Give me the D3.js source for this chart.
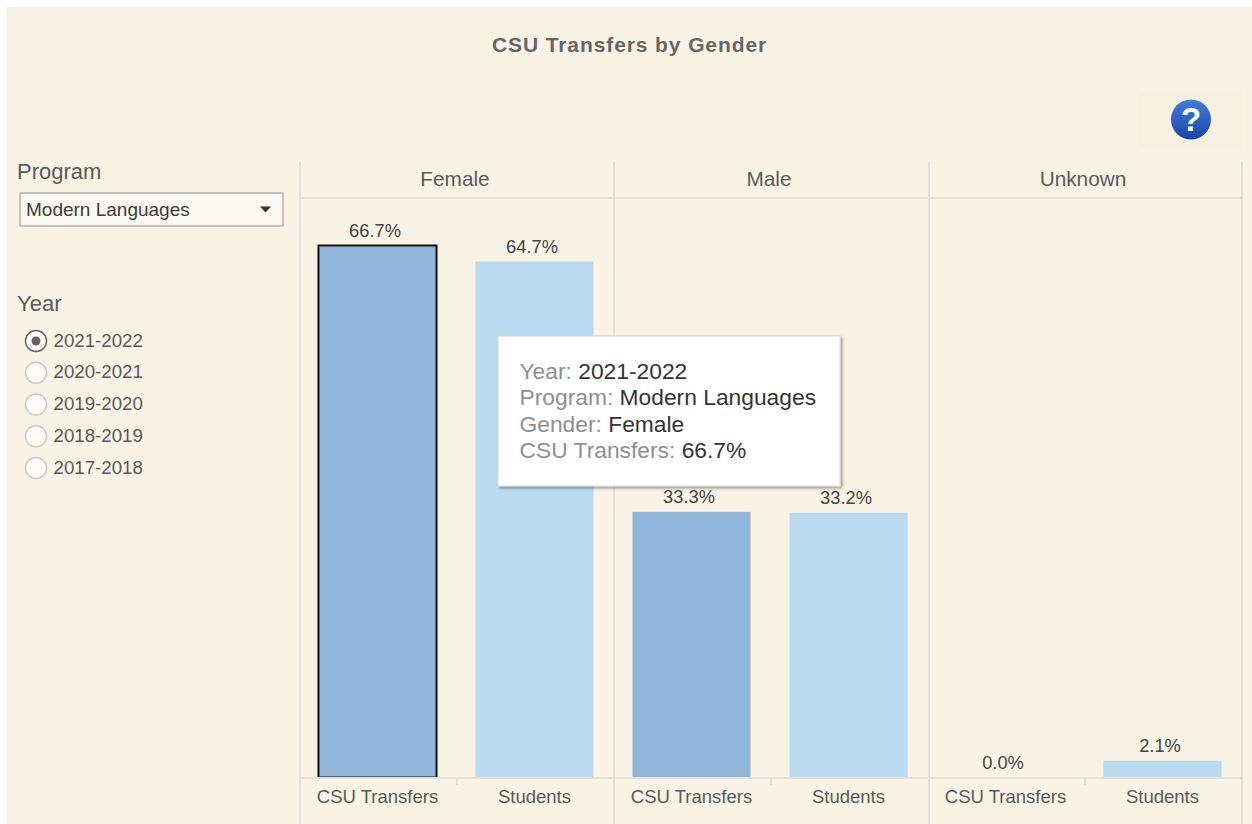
<!DOCTYPE html>
<html>
<head>
<meta charset="utf-8">
<script src="https://cdn.jsdelivr.net/npm/d3@7"></script>
<style>
html, body { margin: 0; padding: 0; background: #fff; overflow: hidden; }
svg { display: block; }
text { font-family: Arial, "Liberation Sans", sans-serif; }
</style>
</head>
<body>
<div id="chart"></div>
<script>
var genders = ["Female", "Male", "Unknown"];
var measures = ["CSU Transfers", "Students"];
var csuTransfers = [66.7, 33.3, 0.0];
var students = [64.7, 33.2, 2.1];
var years = ["2021-2022", "2020-2021", "2019-2020", "2018-2019", "2017-2018"];
var selectedYear = "2021-2022";
var programName = "Modern Languages";
var tooltipRows = [
  ["Year: ", "2021-2022"],
  ["Program: ", "Modern Languages"],
  ["Gender: ", "Female"],
  ["CSU Transfers: ", "66.7%"]
];

var width = 1252, height = 824;
var textColor = "#5a5a5a", faint = "#e2e0d9";

var svg = d3.select("#chart").append("svg").attr("width", width).attr("height", height);
var defs = svg.append("defs");

var blur = defs.append("filter").attr("id", "tipShadow")
  .attr("x", "-5%").attr("y", "-5%").attr("width", "112%").attr("height", "115%");
blur.append("feDropShadow").attr("dx", 2).attr("dy", 2).attr("stdDeviation", 1.5)
  .attr("flood-color", "#000").attr("flood-opacity", 0.35);

var iconGrad = defs.append("linearGradient").attr("id", "helpGrad")
  .attr("x1", 0).attr("y1", 0).attr("x2", 0).attr("y2", 1);
iconGrad.append("stop").attr("offset", "0%").attr("stop-color", "#3f7fdc");
iconGrad.append("stop").attr("offset", "100%").attr("stop-color", "#1a44a8");

// background panel
svg.append("rect").attr("x", 7).attr("y", 7).attr("width", width - 7).attr("height", height - 7).attr("fill", "#f9f3e6");

svg.append("text").attr("x", 629.5).attr("y", 52).attr("text-anchor", "middle")
  .attr("font-size", 21).attr("font-weight", "bold").attr("letter-spacing", 0.9)
  .attr("fill", "#666").text("CSU Transfers by Gender");

// help icon
svg.append("rect").attr("x", 1139).attr("y", 92).attr("width", 103).attr("height", 56).attr("fill", "#f8f1e2");
svg.append("circle").attr("cx", 1191).attr("cy", 119.5).attr("r", 20).attr("fill", "url(#helpGrad)");
svg.append("text").attr("x", 1191).attr("y", 131).attr("text-anchor", "middle")
  .attr("font-size", 33).attr("font-weight", "bold").attr("fill", "#fff").text("?");

// scales
var x0 = d3.scaleBand().domain(genders).range([300, 1242]);
var x1 = d3.scaleBand().domain(measures).range([-1, x0.bandwidth() - 1]).paddingInner(0.248).paddingOuter(0.124);
var y = d3.scaleLinear().domain([0, 66.7]).range([777.5, 245.5]);
var color = d3.scaleOrdinal().domain(measures).range(["#90b6dc", "#bbdbf1"]);

var rows = [];
genders.forEach(function (g, i) {
  rows.push({ gender: g, measure: measures[0], value: csuTransfers[i] });
  rows.push({ gender: g, measure: measures[1], value: students[i] });
});

// frame lines
var grid = svg.append("g").attr("stroke", faint).attr("stroke-width", 2).attr("fill", "none");
[300, 614, 929, 1242].forEach(function (px) {
  grid.append("line").attr("x1", px).attr("x2", px).attr("y1", 162).attr("y2", height);
});
grid.append("line").attr("x1", 300).attr("x2", 1242).attr("y1", 198).attr("y2", 198);

// facet headers
svg.append("g").selectAll("text").data(genders).enter().append("text")
  .attr("x", function (d) { return x0(d) + x0.bandwidth() / 2 - 2; })
  .attr("y", 186).attr("text-anchor", "middle").attr("font-size", 20.8)
  .attr("fill", textColor).text(function (d) { return d; });

// bars
var facet = svg.append("g").selectAll("g").data(rows).enter().append("g")
  .attr("transform", function (d) { return "translate(" + (x0(d.gender) + x1(d.measure)) + ",0)"; });

facet.filter(function (d) { return d.value > 0; }).append("rect")
  .attr("y", function (d) { return y(d.value); })
  .attr("width", x1.bandwidth())
  .attr("height", function (d) { return y(0) - y(d.value); })
  .attr("fill", function (d) { return color(d.measure); })
  .attr("stroke", function (d) { return d.gender === "Female" && d.measure === "CSU Transfers" ? "#111" : "none"; })
  .attr("stroke-width", 2);

facet.append("text")
  .attr("x", x1.bandwidth() / 2 - 2.5)
  .attr("y", function (d) { return y(d.value) - 8.5; })
  .attr("text-anchor", "middle").attr("font-size", 18.3).attr("fill", "#444")
  .text(function (d) { return d.value.toFixed(1) + "%"; });

// category axis, one per facet
genders.forEach(function (g) {
  var axis = svg.append("g").attr("transform", "translate(" + x0(g) + ",778)")
    .call(d3.axisBottom(x1).tickSize(0).tickPadding(12));
  axis.select(".domain").remove();
  axis.selectAll("text").attr("font-size", 18.5).attr("font-family", null).attr("fill", textColor);
  axis.selectAll(".tick line").remove();
  axis.append("line").attr("x1", 157).attr("x2", 157).attr("y1", 0).attr("y2", 7).attr("stroke", faint).attr("stroke-width", 2);
});
svg.append("line").attr("x1", 300).attr("x2", 1242).attr("y1", 778).attr("y2", 778).attr("stroke", faint).attr("stroke-width", 2);

// program filter
svg.append("text").attr("x", 17).attr("y", 179).attr("font-size", 22).attr("fill", textColor).text("Program");
svg.append("rect").attr("x", 20).attr("y", 193).attr("width", 263).attr("height", 33)
  .attr("fill", "#fbf8f1").attr("stroke", "#b5b3ad").attr("stroke-width", 1.5);
svg.append("text").attr("x", 26).attr("y", 216).attr("font-size", 19).attr("fill", "#3d3d3d").text(programName);
svg.append("path").attr("d", "M260,206.5h11l-5.5,6z").attr("fill", "#333");

// year filter
svg.append("text").attr("x", 17).attr("y", 311).attr("font-size", 22).attr("fill", textColor).text("Year");
var yearRow = svg.append("g").selectAll("g").data(years).enter().append("g")
  .attr("transform", function (d, i) { return "translate(0," + (340.5 + i * 31.75) + ")"; });
yearRow.append("circle").attr("cx", 36).attr("cy", 0.5).attr("r", 10.5)
  .attr("fill", "#fdfbf6")
  .attr("stroke", function (d) { return d === selectedYear ? "#666" : "#c9c9c6"; })
  .attr("stroke-width", 1.5);
yearRow.filter(function (d) { return d === selectedYear; }).append("circle")
  .attr("cx", 36).attr("cy", 0.5).attr("r", 4.5).attr("fill", "#666");
yearRow.append("text").attr("x", 53.5).attr("y", 6).attr("font-size", 18.7).attr("fill", textColor)
  .text(function (d) { return d; });

// tooltip
svg.append("rect").attr("x", 498).attr("y", 336).attr("width", 342).attr("height", 150)
  .attr("fill", "#fff").attr("stroke", "#d8d8d8").attr("filter", "url(#tipShadow)");
var tipLine = svg.append("g").selectAll("text").data(tooltipRows).enter().append("text")
  .attr("x", 519.5).attr("y", function (d, i) { return 379 + i * 26.3; }).attr("font-size", 22.8);
tipLine.append("tspan").attr("fill", "#8f8f8f").text(function (d) { return d[0]; });
tipLine.append("tspan").attr("fill", "#333").text(function (d) { return d[1]; });
</script>
</body>
</html>
